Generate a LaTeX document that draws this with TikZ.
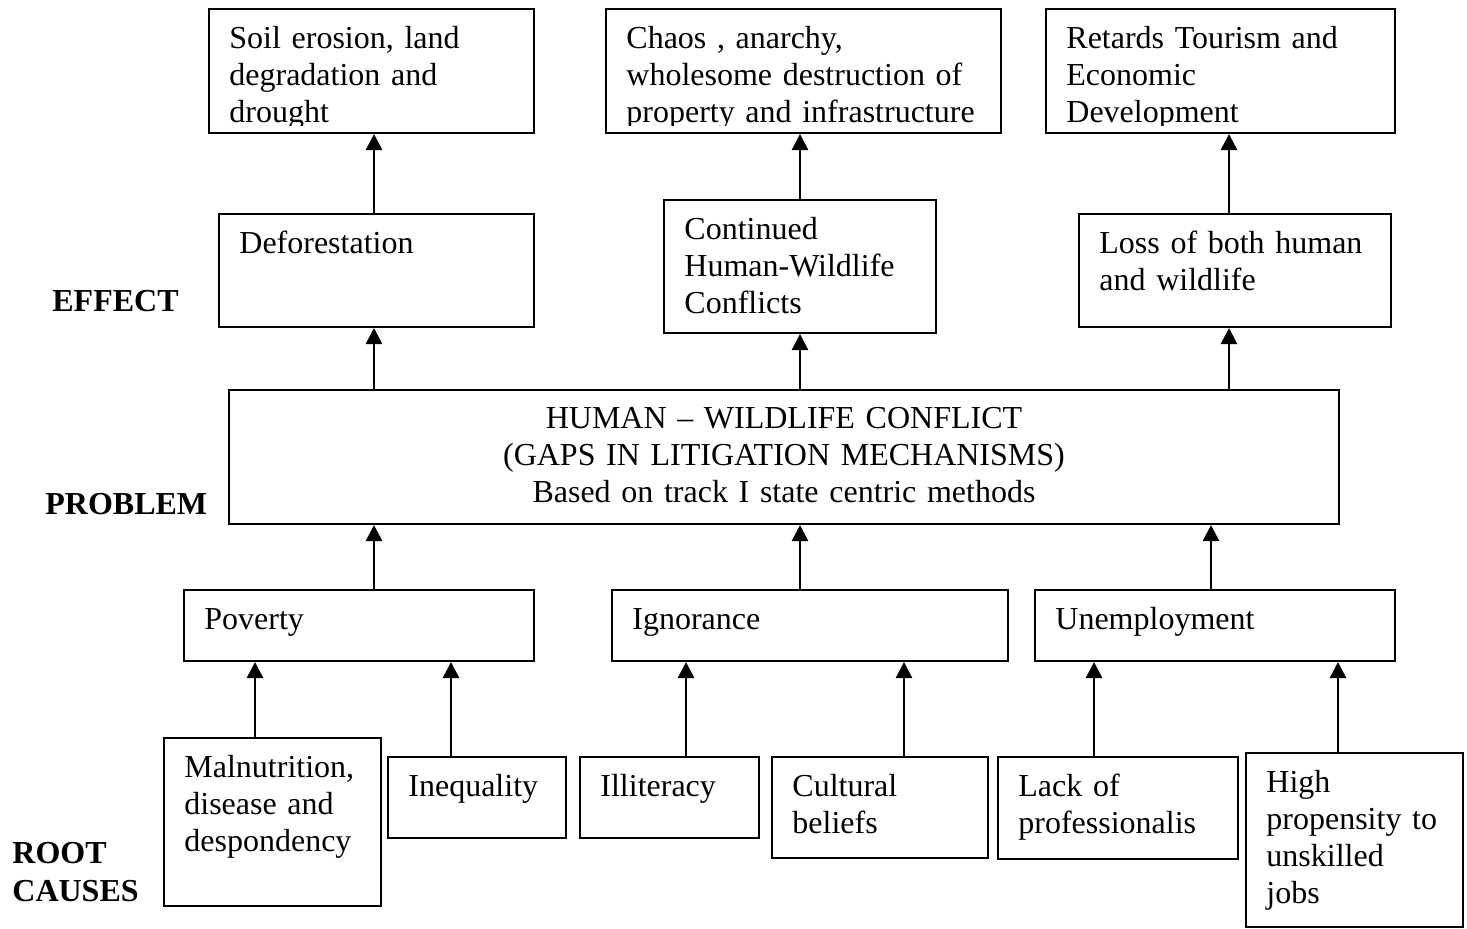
\documentclass[tikz,border=0pt]{standalone}
\usepackage{fontspec}
\setmainfont{Liberation Serif}
\usetikzlibrary{arrows.meta}

\tikzset{
    box/.style={draw, line width=1pt, inner sep=0pt, anchor=north west},
    lbl/.style={anchor=base west, inner sep=0pt, text width=12cm, align=left},
    side/.style={anchor=base west, inner sep=0pt, align=left, font=\fontsize{16}{19}\selectfont\bfseries},
    arr/.style={line width=1.3pt, -{Triangle[width=8pt,length=8pt]}},
}

\begin{document}
\begin{tikzpicture}[x=0.5pt, y=-0.5pt, font=\fontsize{16}{18.5}\selectfont]
    \useasboundingbox (0,0) rectangle (1467,928);

    % effects of the effects
    \node[box, minimum width=162.5pt, minimum height=62pt] (soil) at (208,8) {};
    \node[box, minimum width=197.5pt, minimum height=62pt] (chaos) at (605,8) {};
    \node[box, minimum width=174.5pt, minimum height=62pt] (retards) at (1045,8) {};

    % effects
    \node[box, minimum width=157.5pt, minimum height=56.5pt] (defor) at (218,213) {};
    \node[box, minimum width=136pt, minimum height=66.5pt] (contin) at (663,199) {};
    \node[box, minimum width=156pt, minimum height=56.5pt] (loss) at (1078,213) {};

    % problem
    \node[box, minimum width=555pt, minimum height=67pt] (problem) at (228,389) {};

    % causes
    \node[box, minimum width=175pt, minimum height=35.5pt] (poverty) at (183,589) {};
    \node[box, minimum width=198pt, minimum height=35.5pt] (ignor) at (611,589) {};
    \node[box, minimum width=180pt, minimum height=35.5pt] (unemp) at (1034,589) {};

    % root causes
    \node[box, minimum width=108.5pt, minimum height=84pt] (maln) at (163,737) {};
    \node[box, minimum width=89pt, minimum height=40.5pt] (ineq) at (387,756) {};
    \node[box, minimum width=89.5pt, minimum height=40.5pt] (illit) at (579,756) {};
    \node[box, minimum width=108pt, minimum height=50.5pt] (cult) at (771,756) {};
    \node[box, minimum width=120pt, minimum height=51pt] (lack) at (997,756) {};
    \node[box, minimum width=108.5pt, minimum height=87pt] (high) at (1245,752) {};

    % top row texts run past the box bottom and get cut
    \begin{scope}
        \clip (soil.north west) rectangle ([shift={(0,-9)}]soil.south east);
        \node[lbl] (soil-t) at ([shift={(21,40)}]soil.north west) {Soil erosion, land\\degradation and\\drought};
    \end{scope}
    \begin{scope}
        \clip (chaos.north west) rectangle ([shift={(0,-9)}]chaos.south east);
        \node[lbl] (chaos-t) at ([shift={(21,40)}]chaos.north west) {Chaos , anarchy,\\wholesome destruction of\\property and infrastructure};
    \end{scope}
    \begin{scope}
        \clip (retards.north west) rectangle ([shift={(0,-9)}]retards.south east);
        \node[lbl] (retards-t) at ([shift={(21,40)}]retards.north west) {Retards Tourism and\\Economic\\Development};
    \end{scope}

    \foreach \n/\t in {defor/{Deforestation}, contin/{Continued\\Human-Wildlife\\Conflicts},
                       loss/{Loss of both human\\and wildlife}, poverty/{Poverty},
                       ignor/{Ignorance}, unemp/{Unemployment},
                       maln/{Malnutrition,\\disease and\\despondency}, ineq/{Inequality},
                       illit/{Illiteracy}, cult/{Cultural\\beliefs},
                       lack/{Lack of\\professionalis}, high/{High\\propensity to\\unskilled\\jobs}} {
        \node[lbl] (\n-t) at ([shift={(21,40)}]\n.north west) {\t};
    }

    \node[anchor=base, inner sep=0pt, text width=20cm, align=center] (problem-t) at ([shift={(0,39)}]problem.north)
        {HUMAN -- WILDLIFE CONFLICT\\(GAPS IN LITIGATION MECHANISMS)\\Based on track I state centric methods};

    % row labels
    \node[side] (effect) at (52,311) {EFFECT};
    \node[side] (prob) at (45,514) {PROBLEM};
    \node[side] (root) at (12,901) {ROOT\\CAUSES};

    % arrows
    \foreach \x/\a/\b in {374/defor/soil, 800/contin/chaos, 1229/loss/retards,
                          374/problem/defor, 800/problem/contin, 1229/problem/loss,
                          374/poverty/problem, 800/ignor/problem, 1211/unemp/problem,
                          255/maln/poverty, 451/ineq/poverty, 686/illit/ignor,
                          904/cult/ignor, 1094/lack/unemp, 1338/high/unemp} {
        \draw[arr] (\x,0 |- \a.north) -- (\x,0 |- \b.south);
    }
\end{tikzpicture}
\end{document}
